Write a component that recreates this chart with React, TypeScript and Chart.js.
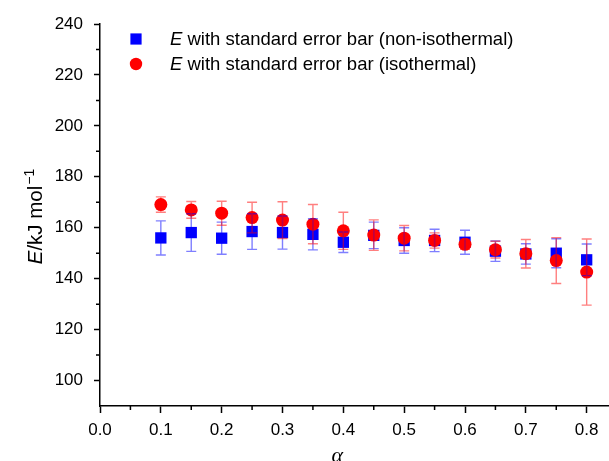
import React, { useEffect, useRef } from 'react';
import { Chart, registerables } from 'chart.js';

Chart.register(...registerables);

// ---- data ----
const alpha = [0.1, 0.15, 0.2, 0.25, 0.3, 0.35, 0.4, 0.45, 0.5, 0.55, 0.6, 0.65, 0.7, 0.75, 0.8];
const eNonIso = [156.0, 158.1, 155.9, 158.5, 158.1, 157.4, 154.3, 157.0, 155.0, 155.0, 154.3, 150.8, 149.7, 150.0, 147.4];
const errNonIso = [6.7, 7.4, 6.3, 7.0, 6.5, 6.1, 4.0, 5.2, 5.0, 4.4, 4.7, 4.0, 4.0, 5.7, 6.2];
const eIso = [169.1, 167.0, 165.7, 164.0, 163.0, 161.4, 158.8, 157.1, 155.9, 155.0, 153.5, 151.4, 149.8, 147.1, 142.6];
const errIso = [3.0, 3.3, 4.7, 6.0, 7.2, 7.7, 7.3, 6.0, 5.0, 3.0, 2.0, 3.3, 5.6, 9.0, 13.0];

const xTickValues = [0, 0.1, 0.2, 0.3, 0.4, 0.5, 0.6, 0.7, 0.8];
const xMinorTicks = [0.05, 0.15, 0.25, 0.35, 0.45, 0.55, 0.65, 0.75];
const yTickValues = [100, 120, 140, 160, 180, 200, 220, 240];
const yMinorTicks = [110, 130, 150, 170, 190, 210, 230];

const seriesNames = [' with standard error bar (non-isothermal)', ' with standard error bar (isothermal)'];
const symbolName = 'E';
const yTitleMain = '/kJ mol';
const yTitleSup = '\u22121';
const xTitle = '\u03b1';

const SANS = '"Liberation Sans", Arial, Helvetica, sans-serif';
const SERIF = '"Liberation Serif", "Times New Roman", serif';

const errorSets = [
  { values: eNonIso, errs: errNonIso, color: 'rgba(0,0,255,0.5)' },
  { values: eIso, errs: errIso, color: 'rgba(255,0,0,0.5)' },
];

const errorBarPlugin = {
  id: 'errorBars',
  afterDatasetsDraw(chart: any) {
    const xs = chart.scales.x;
    const ys = chart.scales.y;
    const ctx = chart.ctx;
    ctx.save();
    ctx.lineWidth = 1.4;
    const cap = 5;
    errorSets.forEach((s) => {
      ctx.strokeStyle = s.color;
      s.values.forEach((v, i) => {
        const x = xs.getPixelForValue(alpha[i]);
        const yt = ys.getPixelForValue(v + s.errs[i]);
        const yb = ys.getPixelForValue(v - s.errs[i]);
        ctx.beginPath();
        ctx.moveTo(x, yt);
        ctx.lineTo(x, yb);
        ctx.moveTo(x - cap, yt);
        ctx.lineTo(x + cap, yt);
        ctx.moveTo(x - cap, yb);
        ctx.lineTo(x + cap, yb);
        ctx.stroke();
      });
    });
    ctx.restore();
  },
};

const decorPlugin = {
  id: 'decor',
  afterDraw(chart: any) {
    const ctx = chart.ctx;
    const xs = chart.scales.x;
    const ys = chart.scales.y;
    const area = chart.chartArea;
    ctx.save();
    // minor ticks
    ctx.strokeStyle = '#000';
    ctx.lineWidth = 1.5;
    ctx.beginPath();
    xMinorTicks.forEach((v) => {
      const x = xs.getPixelForValue(v);
      ctx.moveTo(x, area.bottom);
      ctx.lineTo(x, area.bottom + 4);
    });
    yMinorTicks.forEach((v) => {
      const y = ys.getPixelForValue(v);
      ctx.moveTo(area.left, y);
      ctx.lineTo(area.left - 4, y);
    });
    ctx.stroke();

    // legend
    const lx = area.left + 36;
    const rows = [area.top + 15, area.top + 40];
    const ds = chart.data.datasets;
    ctx.fillStyle = ds[0].backgroundColor;
    ctx.fillRect(lx - 5.6, rows[0] - 5.6, 11.2, 11.2);
    ctx.fillStyle = ds[1].backgroundColor;
    ctx.beginPath();
    ctx.arc(lx, rows[1], 6.2, 0, Math.PI * 2);
    ctx.fill();
    ctx.fillStyle = '#000';
    ctx.textBaseline = 'middle';
    ctx.textAlign = 'left';
    seriesNames.forEach((name, i) => {
      const tx = area.left + 70;
      ctx.font = `italic 18.5px ${SANS}`;
      ctx.fillText(symbolName, tx, rows[i] + 1);
      const w = ctx.measureText(symbolName).width;
      ctx.font = `18.5px ${SANS}`;
      ctx.fillText(name, tx + w, rows[i] + 1);
    });

    // y title
    ctx.save();
    ctx.translate(42, (area.top + area.bottom) / 2 + 2);
    ctx.rotate(-Math.PI / 2);
    ctx.textBaseline = 'alphabetic';
    ctx.font = `italic 20.5px ${SANS}`;
    const wE = ctx.measureText(symbolName).width;
    ctx.font = `20.5px ${SANS}`;
    const wM = ctx.measureText(yTitleMain).width;
    ctx.font = `14px ${SANS}`;
    const wS = ctx.measureText(yTitleSup).width;
    let x0 = -(wE + wM + wS) / 2;
    ctx.font = `italic 20.5px ${SANS}`;
    ctx.fillText(symbolName, x0, 0);
    x0 += wE;
    ctx.font = `20.5px ${SANS}`;
    ctx.fillText(yTitleMain, x0, 0);
    x0 += wM;
    ctx.font = `14px ${SANS}`;
    ctx.fillText(yTitleSup, x0 + 1, -8.5);
    ctx.restore();

    // x title
    ctx.font = `italic 22px ${SERIF}`;
    ctx.textAlign = 'center';
    ctx.textBaseline = 'alphabetic';
    ctx.fillText(xTitle, xs.getPixelForValue(0.39), area.bottom + 56);
    ctx.restore();
  },
};

export default function App() {
  const ref = useRef<HTMLCanvasElement | null>(null);
  useEffect(() => {
    document.body.style.margin = '0';
    const canvas = ref.current;
    if (!canvas) return;
    const chart = new Chart(canvas, {
      type: 'scatter',
      data: {
        datasets: [
          {
            label: 'E' + seriesNames[0],
            data: alpha.map((a, i) => ({ x: a, y: eNonIso[i] })),
            backgroundColor: '#0000ff',
            borderColor: '#0000ff',
            borderWidth: 0,
            pointStyle: 'rect',
            pointRadius: 8,
            pointHoverRadius: 8,
            order: 1,
          },
          {
            label: 'E' + seriesNames[1],
            data: alpha.map((a, i) => ({ x: a, y: eIso[i] })),
            backgroundColor: '#ff0000',
            borderColor: '#ff0000',
            borderWidth: 0,
            pointStyle: 'circle',
            pointRadius: 6.5,
            pointHoverRadius: 6.5,
            order: 0,
          },
        ],
      },
      options: {
        responsive: false,
        animation: false,
        devicePixelRatio: 1,
        layout: { autoPadding: false, padding: { top: 24, right: 0, left: 0, bottom: 0 } },
        plugins: { legend: { display: false }, tooltip: { enabled: false } },
        scales: {
          x: {
            type: 'linear',
            min: 0,
            max: 0.8367,
            afterBuildTicks: (s: any) => {
              s.ticks = xTickValues.map((v) => ({ value: v }));
            },
            afterFit: (s: any) => {
              s.height = 55;
              s.paddingLeft = 0;
              s.paddingRight = 0;
            },
            border: { display: true, color: '#000', width: 1.5 },
            grid: { display: true, drawOnChartArea: false, drawTicks: true, tickLength: 7, tickColor: '#000', tickWidth: 1.5 },
            ticks: {
              color: '#000',
              padding: 7,
              maxRotation: 0,
              autoSkip: false,
              font: { family: SANS, size: 17 },
              callback: (v: any) => Number(v).toFixed(1),
            },
          },
          y: {
            type: 'linear',
            min: 90,
            max: 240,
            afterBuildTicks: (s: any) => {
              s.ticks = yTickValues.map((v) => ({ value: v }));
            },
            afterFit: (s: any) => {
              s.width = 100;
              s.paddingTop = 0;
              s.paddingBottom = 0;
            },
            border: { display: true, color: '#000', width: 1.5 },
            grid: { display: true, drawOnChartArea: false, drawTicks: true, tickLength: 6, tickColor: '#000', tickWidth: 1.5 },
            ticks: {
              color: '#000',
              padding: 11,
              autoSkip: false,
              font: { family: SANS, size: 17 },
            },
          },
        },
      },
      plugins: [errorBarPlugin, decorPlugin],
    });
    return () => chart.destroy();
  }, []);
  return (
    <div style={{ width: 609, height: 461, position: 'relative' }}>
      <canvas ref={ref} width={609} height={461} />
    </div>
  );
}
